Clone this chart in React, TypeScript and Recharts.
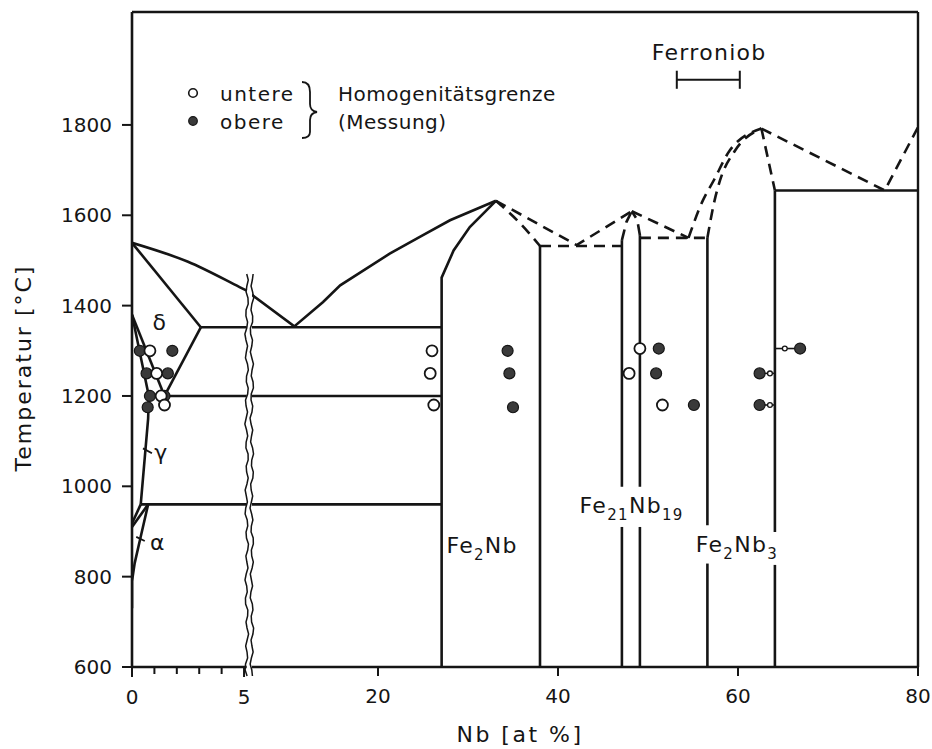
import React from "react"
import {
  ComposedChart,
  Line,
  Scatter,
  XAxis,
  YAxis,
  ReferenceLine,
  ReferenceArea,
  ReferenceDot,
} from "recharts"

const INK = "#151515"
const FONT = "'DejaVu Sans', 'Liberation Sans', Arial, sans-serif"

type Pt = { nb: number; t: number }

// Achsen: Temperatur links, Nb-Gehalt unten mit Achsenbruch
const tempTicks = [600, 800, 1000, 1200, 1400, 1600, 1800]
const loTicks = [0, 1, 2, 3, 4, 5] // gedehnter Fe-reicher Teil
const loLabelled = [0, 5]
const hiTicks = [20, 40, 60, 80]
const loDomain = [0, 5.4]
const hiDomain = [6, 80]
const breakEdges = [5.12, 5.35] // in lo-Einheiten
const breakTop = 1470

// --- Fe-reicher Teil (0..5 at%) ---
const liquidusLo: Pt[] = [
  { nb: 0, t: 1539 }, { nb: 2.5, t: 1497 }, { nb: 4.8, t: 1441 }, { nb: 5.12, t: 1433 },
]
const solidusDelta: Pt[] = [{ nb: 0, t: 1539 }, { nb: 3.07, t: 1352 }]
const solvusDelta: Pt[] = [{ nb: 3.07, t: 1352 }, { nb: 1.45, t: 1200 }]
const eutecticLo: Pt[] = [{ nb: 3.07, t: 1352 }, { nb: 5.12, t: 1352 }]
const deltaGamma: Pt[] = [{ nb: 0, t: 1380 }, { nb: 1.45, t: 1200 }]
const gammaLine: Pt[] = [
  { nb: 0, t: 1380 }, { nb: 0.75, t: 1200 }, { nb: 0.72, t: 1150 }, { nb: 0.39, t: 960 },
]
const eutectoidLo: Pt[] = [{ nb: 0.75, t: 1200 }, { nb: 5.12, t: 1200 }]
const lowEutectoidLo: Pt[] = [{ nb: 0.39, t: 960 }, { nb: 5.12, t: 960 }]
const alphaGamma1: Pt[] = [{ nb: 0, t: 918 }, { nb: 0.39, t: 960 }]
const alphaGamma2: Pt[] = [{ nb: 0, t: 910 }, { nb: 0.72, t: 960 }]
const alphaSolvus: Pt[] = [
  { nb: 0.72, t: 960 }, { nb: 0.35, t: 880 }, { nb: 0.12, t: 830 }, { nb: 0, t: 790 }, { nb: 0, t: 730 },
]
const gammaPointer: Pt[] = [{ nb: 0.49, t: 1084 }, { nb: 0.89, t: 1073 }]
const alphaPointer: Pt[] = [{ nb: 0.19, t: 888 }, { nb: 0.57, t: 879 }]

// --- Hauptteil (6..80 at%) ---
const liquidusHi: Pt[] = [
  { nb: 6, t: 1424 }, { nb: 10.7, t: 1354 }, { nb: 13.9, t: 1408 }, { nb: 15.8, t: 1445 },
  { nb: 21.3, t: 1515 }, { nb: 25.0, t: 1556 }, { nb: 28, t: 1589 }, { nb: 33.1, t: 1632 },
]
const eutecticHi: Pt[] = [{ nb: 6, t: 1352 }, { nb: 27.07, t: 1352 }]
const eutectoidHi: Pt[] = [{ nb: 6, t: 1200 }, { nb: 27.07, t: 1200 }]
const lowEutectoidHi: Pt[] = [{ nb: 6, t: 960 }, { nb: 27.07, t: 960 }]
const fe2nbLeft: Pt[] = [
  { nb: 27.07, t: 600 }, { nb: 27.07, t: 1462 }, { nb: 28.4, t: 1522 }, { nb: 30.2, t: 1574 }, { nb: 33.1, t: 1632 },
]
const fe2nbRight: Pt[] = [{ nb: 38, t: 600 }, { nb: 38, t: 1532 }]
const muLeftLow: Pt[] = [{ nb: 47.1, t: 600 }, { nb: 47.1, t: 910 }]
const muLeftHigh: Pt[] = [{ nb: 47.1, t: 999 }, { nb: 47.1, t: 1545 }]
const muRightLow: Pt[] = [{ nb: 49.1, t: 600 }, { nb: 49.1, t: 910 }]
const muRightHigh: Pt[] = [{ nb: 49.1, t: 999 }, { nb: 49.1, t: 1556 }]
const fe2nb3LeftLow: Pt[] = [{ nb: 56.6, t: 600 }, { nb: 56.6, t: 829 }]
const fe2nb3LeftHigh: Pt[] = [{ nb: 56.6, t: 914 }, { nb: 56.6, t: 1550 }]
const fe2nb3RightLow: Pt[] = [{ nb: 64.1, t: 600 }, { nb: 64.1, t: 826 }]
const fe2nb3RightHigh: Pt[] = [{ nb: 64.1, t: 899 }, { nb: 64.1, t: 1655 }]
const nbEutectic: Pt[] = [{ nb: 64.1, t: 1655 }, { nb: 80, t: 1655 }]

// gestrichelt (unsicher)
const fe2nbLiqRight: Pt[] = [{ nb: 33.1, t: 1632 }, { nb: 35.8, t: 1582 }, { nb: 38, t: 1532 }]
const liqFe2nbMu: Pt[] = [{ nb: 33.1, t: 1632 }, { nb: 42.07, t: 1534 }, { nb: 48.2, t: 1609 }]
const peritecticMu: Pt[] = [{ nb: 38, t: 1532 }, { nb: 47.1, t: 1532 }]
const muCapLeft: Pt[] = [{ nb: 47.1, t: 1545 }, { nb: 47.6, t: 1585 }, { nb: 48.2, t: 1609 }]
const muCapRight: Pt[] = [{ nb: 49.1, t: 1556 }, { nb: 48.8, t: 1590 }, { nb: 48.2, t: 1609 }]
const liqMuFe2nb3: Pt[] = [{ nb: 48.2, t: 1609 }, { nb: 54.5, t: 1550 }]
const eutecticMuFe2nb3: Pt[] = [{ nb: 49.1, t: 1550 }, { nb: 56.6, t: 1550 }]
const fe2nb3CapA: Pt[] = [
  { nb: 54.5, t: 1550 }, { nb: 56.1, t: 1633 }, { nb: 57.3, t: 1677 }, { nb: 59.1, t: 1744 }, { nb: 62.6, t: 1792 },
]
const fe2nb3CapB: Pt[] = [
  { nb: 56.6, t: 1550 }, { nb: 57.4, t: 1633 }, { nb: 58, t: 1677 }, { nb: 59.7, t: 1744 }, { nb: 62.6, t: 1792 },
]
const fe2nb3CapRight: Pt[] = [{ nb: 62.6, t: 1792 }, { nb: 64.1, t: 1655 }]
const liquidusNb: Pt[] = [{ nb: 62.6, t: 1792 }, { nb: 76.3, t: 1655 }, { nb: 80, t: 1795 }]

// Messpunkte Homogenitätsgrenze
const lowerLo: Pt[] = [
  { nb: 0.8, t: 1300 }, { nb: 1.1, t: 1250 }, { nb: 1.3, t: 1200 }, { nb: 1.45, t: 1180 },
]
const upperLo: Pt[] = [
  { nb: 0.35, t: 1300 }, { nb: 1.8, t: 1300 }, { nb: 0.65, t: 1250 }, { nb: 1.6, t: 1250 },
  { nb: 0.8, t: 1200 }, { nb: 1.45, t: 1200 }, { nb: 0.7, t: 1175 },
]
const lowerHi: Pt[] = [
  { nb: 26.0, t: 1300 }, { nb: 25.8, t: 1250 }, { nb: 26.2, t: 1180 },
  { nb: 49.1, t: 1305 }, { nb: 47.9, t: 1250 }, { nb: 51.6, t: 1180 },
]
const upperHi: Pt[] = [
  { nb: 34.4, t: 1300 }, { nb: 34.6, t: 1250 }, { nb: 35.0, t: 1175 },
  { nb: 51.2, t: 1305 }, { nb: 50.9, t: 1250 }, { nb: 55.1, t: 1180 },
  { nb: 62.4, t: 1250 }, { nb: 62.4, t: 1180 }, { nb: 66.9, t: 1305 },
]
const pointers: Pt[][] = [
  [{ nb: 64.1, t: 1305 }, { nb: 66.3, t: 1305 }],
  [{ nb: 63.0, t: 1250 }, { nb: 64.1, t: 1250 }],
  [{ nb: 63.0, t: 1180 }, { nb: 64.1, t: 1180 }],
]
const pointerHeads: Pt[] = [
  { nb: 65.2, t: 1305 }, { nb: 63.55, t: 1250 }, { nb: 63.55, t: 1180 },
]

// Ferroniob-Bereich
const ferroniob: Pt[] = [{ nb: 53.2, t: 1900 }, { nb: 60.2, t: 1900 }]

type Seg = { data: Pt[]; axis: "lo" | "hi"; dashed?: boolean; w?: number; smooth?: boolean }

const segments: Seg[] = [
  { data: liquidusLo, axis: "lo", smooth: true },
  { data: solidusDelta, axis: "lo" },
  { data: solvusDelta, axis: "lo" },
  { data: eutecticLo, axis: "lo" },
  { data: deltaGamma, axis: "lo" },
  { data: gammaLine, axis: "lo" },
  { data: eutectoidLo, axis: "lo" },
  { data: lowEutectoidLo, axis: "lo" },
  { data: alphaGamma1, axis: "lo" },
  { data: alphaGamma2, axis: "lo" },
  { data: alphaSolvus, axis: "lo" },
  { data: gammaPointer, axis: "lo", w: 1.8 },
  { data: alphaPointer, axis: "lo", w: 1.8 },
  { data: liquidusHi, axis: "hi" },
  { data: eutecticHi, axis: "hi" },
  { data: eutectoidHi, axis: "hi" },
  { data: lowEutectoidHi, axis: "hi" },
  { data: fe2nbLeft, axis: "hi" },
  { data: fe2nbRight, axis: "hi" },
  { data: muLeftLow, axis: "hi" },
  { data: muLeftHigh, axis: "hi" },
  { data: muRightLow, axis: "hi" },
  { data: muRightHigh, axis: "hi" },
  { data: fe2nb3LeftLow, axis: "hi" },
  { data: fe2nb3LeftHigh, axis: "hi" },
  { data: fe2nb3RightLow, axis: "hi" },
  { data: fe2nb3RightHigh, axis: "hi" },
  { data: nbEutectic, axis: "hi" },
  { data: fe2nbLiqRight, axis: "hi", dashed: true, smooth: true },
  { data: liqFe2nbMu, axis: "hi", dashed: true },
  { data: peritecticMu, axis: "hi", dashed: true },
  { data: muCapLeft, axis: "hi", dashed: true },
  { data: muCapRight, axis: "hi", dashed: true },
  { data: liqMuFe2nb3, axis: "hi", dashed: true },
  { data: eutecticMuFe2nb3, axis: "hi", dashed: true },
  { data: fe2nb3CapA, axis: "hi", dashed: true, smooth: true },
  { data: fe2nb3CapB, axis: "hi", dashed: true, smooth: true },
  { data: fe2nb3CapRight, axis: "hi", dashed: true },
  { data: liquidusNb, axis: "hi", dashed: true },
  ...pointers.map((p) => ({ data: p, axis: "hi" as const, w: 1.6 })),
  { data: ferroniob, axis: "hi", w: 2 },
]

// Phasenbezeichnungen: [Text, tiefgestellt]
type Part = [string, boolean]
const phaseLabels: { nb: number; t: number; axis: "lo" | "hi"; parts: Part[]; anchor?: string }[] = [
  { nb: 27.6, t: 853, axis: "hi", parts: [["Fe", false], ["2", true], ["Nb", false]] },
  { nb: 42.4, t: 940, axis: "hi", parts: [["Fe", false], ["21", true], ["Nb", false], ["19", true]] },
  { nb: 55.3, t: 855, axis: "hi", parts: [["Fe", false], ["2", true], ["Nb", false], ["3", true]] },
  { nb: 56.8, t: 1944, axis: "hi", parts: [["Ferroniob", false]], anchor: "middle" },
  { nb: 1.24, t: 1346, axis: "lo", parts: [["δ", false]], anchor: "middle" },
  { nb: 1.31, t: 1058, axis: "lo", parts: [["γ", false]], anchor: "middle" },
  { nb: 1.16, t: 859, axis: "lo", parts: [["α", false]], anchor: "middle" },
]

const textStyle = { fontFamily: FONT, fill: INK } as const

const phaseText = (parts: Part[], anchor = "start") => ({ cx, cy }: any) => {
  let shift = 0
  return (
    <text x={cx} y={cy} textAnchor={anchor} fontSize={22} letterSpacing={1.3} {...textStyle}>
      {parts.map(([s, sub], i) => {
        const target = sub ? 7 : 0
        const dy = target - shift
        shift = target
        return (
          <tspan key={i} dy={dy} fontSize={sub ? 15 : 22}>
            {s}
          </tspan>
        )
      })}
    </text>
  )
}

const LoTick = ({ x, y, payload }: any) => {
  const major = loLabelled.includes(payload.value)
  return (
    <g>
      <line x1={x} y1={y} x2={x} y2={y + (major ? 9 : 6)} stroke={INK} strokeWidth={2} />
      {major && (
        <text x={x} y={y + 36} textAnchor="middle" fontSize={20} {...textStyle}>
          {payload.value}
        </text>
      )}
    </g>
  )
}

const HiTick = ({ x, y, payload }: any) => (
  <g>
    <line x1={x} y1={y} x2={x} y2={y + 9} stroke={INK} strokeWidth={2} />
    <text x={x} y={y + 36} textAnchor="middle" fontSize={20} {...textStyle}>
      {payload.value}
    </text>
  </g>
)

const TempTick = ({ x, y, payload }: any) => (
  <g>
    <line x1={x - 10} y1={y} x2={x} y2={y} stroke={INK} strokeWidth={2} />
    <text x={x - 20} y={y + 7} textAnchor="end" fontSize={20} {...textStyle}>
      {payload.value}
    </text>
  </g>
)

// Achsenbruch als zwei gewellte Linien
const BreakShape = ({ x, y, width, height }: any) => {
  const wave = (x0: number, phase: number) => {
    const pts: string[] = []
    let i = 0
    for (let yy = y; yy <= y + height + 10; yy += 6, i++) {
      pts.push(`${x0 + 1.3 * Math.sin(i * 1.7 + phase) + 0.6 * Math.sin(i * 0.45)},${yy}`)
    }
    return pts.join(" ")
  }
  return (
    <g>
      <rect x={x} y={y} width={width} height={height + 10} fill="#fff" />
      <polyline points={wave(x, 0)} fill="none" stroke={INK} strokeWidth={1.5} />
      <polyline points={wave(x + width, 1.3)} fill="none" stroke={INK} strokeWidth={1.5} />
    </g>
  )
}

const OpenDot = ({ cx, cy }: any) => (
  <circle cx={cx} cy={cy} r={5.5} fill="#fff" stroke={INK} strokeWidth={1.8} />
)
const FullDot = ({ cx, cy }: any) => (
  <circle cx={cx} cy={cy} r={5.5} fill="#3a3a3a" stroke={INK} strokeWidth={1.2} />
)
const SmallDot = ({ cx, cy }: any) => (
  <circle cx={cx} cy={cy} r={2.4} fill="#fff" stroke={INK} strokeWidth={1.3} />
)

export default function App() {
  return (
    <div style={{ position: "absolute", left: 0, top: 0, width: 932, height: 749, background: "#fff" }}>
      <ComposedChart width={932} height={749} margin={{ top: 12, right: 14, bottom: 80, left: 72 }}>
        <XAxis
          xAxisId="lo"
          dataKey="nb"
          type="number"
          domain={loDomain}
          allowDataOverflow
          ticks={loTicks}
          interval={0}
          height={1}
          padding={{ left: 0, right: 665 }}
          axisLine={false}
          tickLine={false}
          tickSize={0}
          tickMargin={0}
          tick={<LoTick />}
        />
        <XAxis
          xAxisId="hi"
          dataKey="nb"
          type="number"
          domain={hiDomain}
          allowDataOverflow
          ticks={hiTicks}
          interval={0}
          height={1}
          padding={{ left: 120, right: 0 }}
          axisLine={false}
          tickLine={false}
          tickSize={0}
          tickMargin={0}
          tick={<HiTick />}
        />
        <YAxis
          dataKey="t"
          type="number"
          domain={[600, 2050]}
          allowDataOverflow
          ticks={tempTicks}
          interval={0}
          width={60}
          axisLine={{ stroke: INK, strokeWidth: 2.6 }}
          tickLine={false}
          tickSize={0}
          tickMargin={0}
          tick={<TempTick />}
        />

        {/* Rahmen */}
        <ReferenceLine xAxisId="hi" y={2050} stroke={INK} strokeWidth={2.4} />
        <ReferenceLine xAxisId="hi" x={80} stroke={INK} strokeWidth={2.4} />
        <ReferenceLine
          xAxisId="lo"
          segment={[{ x: 0, y: 600 }, { x: breakEdges[0], y: 600 }]}
          stroke={INK}
          strokeWidth={2.6}
        />
        <ReferenceLine
          xAxisId="hi"
          segment={[{ x: 6, y: 600 }, { x: 80, y: 600 }]}
          stroke={INK}
          strokeWidth={2.6}
        />

        {segments.map((s, i) => (
          <Line
            key={i}
            data={s.data}
            xAxisId={s.axis}
            dataKey="t"
            type={s.smooth ? "monotone" : "linear"}
            stroke={INK}
            strokeWidth={s.w ?? 2.6}
            strokeDasharray={s.dashed ? "11 7" : undefined}
            dot={false}
            activeDot={false}
            legendType="none"
            isAnimationActive={false}
          />
        ))}

        {/* Endmarken des Ferroniob-Bereichs */}
        {ferroniob.map((p, i) => (
          <ReferenceLine
            key={`fn${i}`}
            xAxisId="hi"
            segment={[{ x: p.nb, y: p.t - 20 }, { x: p.nb, y: p.t + 20 }]}
            stroke={INK}
            strokeWidth={2}
          />
        ))}

        <Scatter xAxisId="hi" data={pointerHeads} shape={SmallDot} isAnimationActive={false} />
        <Scatter xAxisId="lo" data={upperLo} shape={FullDot} isAnimationActive={false} />
        <Scatter xAxisId="lo" data={lowerLo} shape={OpenDot} isAnimationActive={false} />
        <Scatter xAxisId="hi" data={upperHi} shape={FullDot} isAnimationActive={false} />
        <Scatter xAxisId="hi" data={lowerHi} shape={OpenDot} isAnimationActive={false} />

        {phaseLabels.map((l, i) => (
          <ReferenceDot
            key={`lb${i}`}
            xAxisId={l.axis}
            x={l.nb}
            y={l.t}
            r={0}
            shape={phaseText(l.parts, l.anchor)}
          />
        ))}

        <ReferenceArea
          xAxisId="lo"
          x1={breakEdges[0]}
          x2={breakEdges[1]}
          y1={600}
          y2={breakTop}
          ifOverflow="visible"
          shape={<BreakShape />}
        />
      </ComposedChart>

      {/* Legende und Achsentitel */}
      <svg width={932} height={749} style={{ position: "absolute", left: 0, top: 0, pointerEvents: "none" }}>
        <circle cx={193} cy={93} r={4.3} fill="#fff" stroke={INK} strokeWidth={1.6} />
        <circle cx={193} cy={121} r={4.3} fill="#3a3a3a" stroke={INK} strokeWidth={1.2} />
        <text x={220} y={101} fontSize={20} letterSpacing={1.5} {...textStyle}>untere</text>
        <text x={220} y={129} fontSize={20} letterSpacing={1.5} {...textStyle}>obere</text>
        <path
          d="M302 82 Q310 82 310 92 L310 104 Q310 111 317 112 Q310 113 310 120 L310 132 Q310 138 302 138"
          fill="none"
          stroke={INK}
          strokeWidth={1.8}
        />
        <text x={338} y={101} fontSize={20} letterSpacing={0.5} {...textStyle}>Homogenitätsgrenze</text>
        <text x={338} y={129} fontSize={20} letterSpacing={0.5} {...textStyle}>(Messung)</text>
        <text
          x={23}
          y={368}
          transform="rotate(-90 23 368)"
          textAnchor="middle"
          dominantBaseline="central"
          fontSize={22}
          letterSpacing={2}
          {...textStyle}
        >
          Temperatur [°C]
        </text>
        <text x={520} y={742} textAnchor="middle" fontSize={22} letterSpacing={2.5} {...textStyle}>
          Nb [at %]
        </text>
      </svg>
    </div>
  )
}
